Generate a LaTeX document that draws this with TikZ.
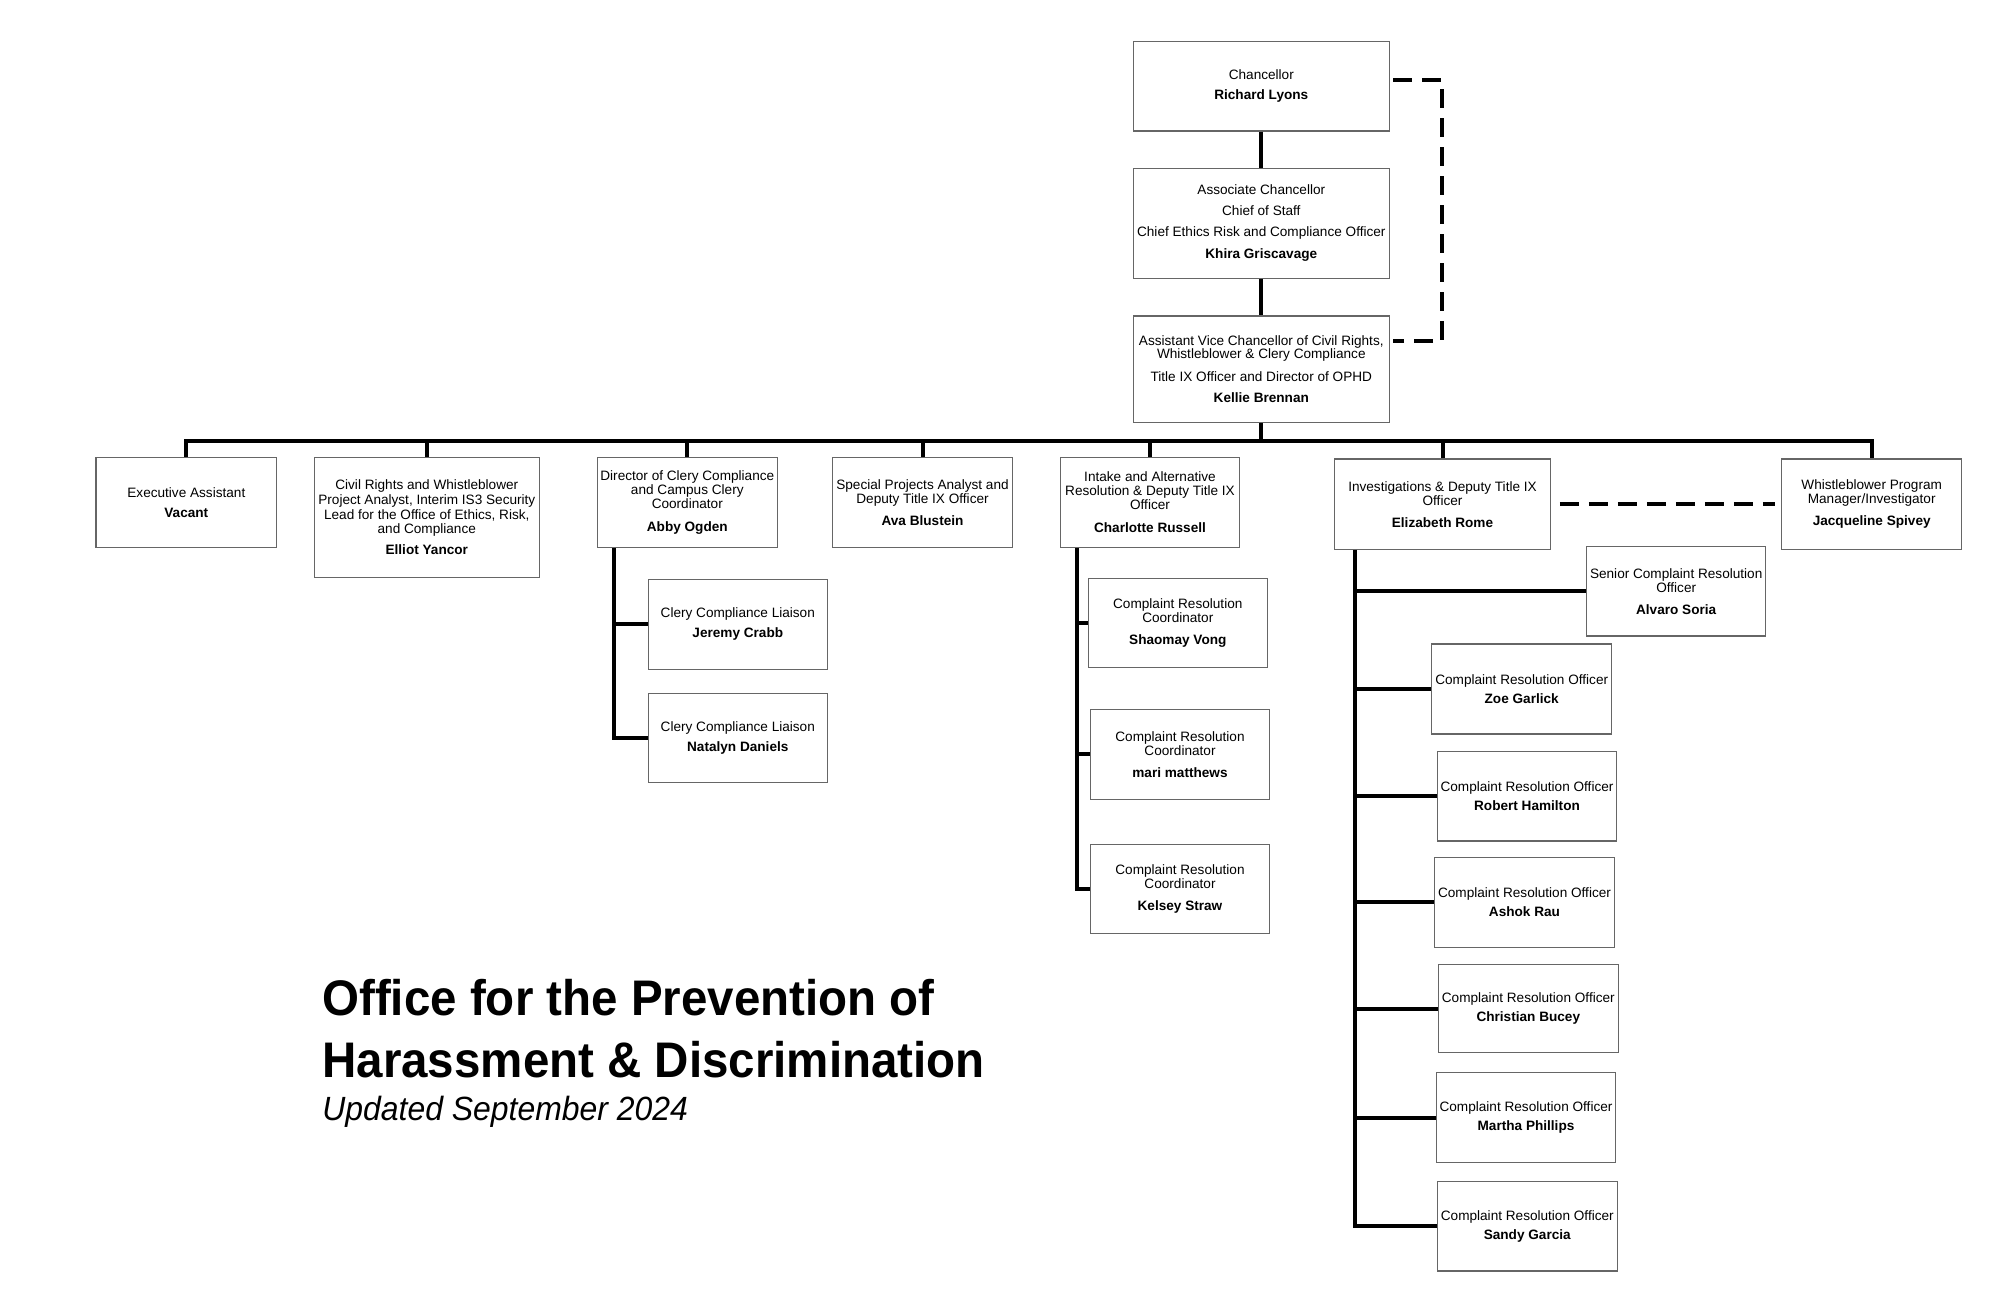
\documentclass[tikz,border=0pt]{standalone}
\usepackage{fontspec}
\setmainfont{Liberation Sans}
\newfontfamily\titlefont[FakeStretch=0.95]{Liberation Sans}
\usetikzlibrary{calc}
\begin{document}
\begin{tikzpicture}[x=0.5pt,y=-0.5pt,
  box/.style={draw=black!60, line width=0.6pt, fill=white, align=center, inner sep=0pt,
    font=\fontsize{6.8pt}{7.1pt}\selectfont},
  conn/.style={line width=2pt},
  dashline/.style={line width=2pt, dash pattern=on 9.5pt off 5pt},
  titlestyle/.style={anchor=base west, inner sep=0pt}
]
\useasboundingbox (0,0) rectangle (1992,1302);
\fill[white] (0,0) rectangle (1992,1302);

% top chain
\node[box, minimum width=128pt, minimum height=44.65pt] (chan) at (1261.3,86.35)
  {Chancellor\\[3pt]\textbf{Richard Lyons}};
\node[box, minimum width=128pt, minimum height=55pt] (assoc) at (1261.3,223.3)
  {Associate Chancellor\\[3pt]Chief of Staff\\[3.6pt]Chief Ethics Risk and Compliance Officer\\[4pt]\textbf{Khira Griscavage}};
\node[box, minimum width=128pt, minimum height=53.15pt, font=\fontsize{6.8pt}{6.9pt}\selectfont] (avc) at (1261.3,369.2)
  {Assistant Vice Chancellor of Civil Rights,\\Whistleblower \& Clery Compliance\\[4.3pt]Title IX Officer and Director of OPHD\\[3.9pt]\textbf{Kellie Brennan}};

% second level
\node[box, minimum width=90.35pt, minimum height=45pt] (exec) at (186.35,502.3)
  {Executive Assistant\\[3pt]\textbf{Vacant}};
\node[box, minimum width=112.5pt, minimum height=60pt, font=\fontsize{6.8pt}{7.3pt}\selectfont] (civil) at (426.8,517.3)
  {Civil Rights and Whistleblower\\Project Analyst, Interim IS3 Security\\Lead for the Office of Ethics, Risk,\\and Compliance\\[3pt]\textbf{Elliot Yancor}};
\node[box, minimum width=90pt, minimum height=45pt] (clery) at (687.3,502.3)
  {Director of Clery Compliance\\and Campus Clery\\Coordinator\\[4.4pt]\textbf{Abby Ogden}};
\node[box, minimum width=90.2pt, minimum height=45pt] (special) at (922.5,502.3)
  {Special Projects Analyst and\\Deputy Title IX Officer\\[3.7pt]\textbf{Ava Blustein}};
\node[box, minimum width=89.3pt, minimum height=45pt] (intake) at (1150,502.3)
  {Intake and Alternative\\Resolution \& Deputy Title IX\\Officer\\[4.4pt]\textbf{Charlotte Russell}};
\node[box, minimum width=108.2pt, minimum height=45.15pt] (invest) at (1442.5,504.2)
  {Investigations \& Deputy Title IX\\Officer\\[3.8pt]\textbf{Elizabeth Rome}};
\node[box, minimum width=90pt, minimum height=45.15pt] (whistle) at (1871.7,504.2)
  {Whistleblower Program\\Manager/Investigator\\[3.8pt]\textbf{Jacqueline Spivey}};

% Clery reports
\node[box, minimum width=89.5pt, minimum height=45pt] (jeremy) at (737.8,624.3)
  {Clery Compliance Liaison\\[3pt]\textbf{Jeremy Crabb}};
\node[box, minimum width=89.5pt, minimum height=44.7pt] (natalyn) at (737.8,738)
  {Clery Compliance Liaison\\[3pt]\textbf{Natalyn Daniels}};

% Intake reports
\node[box, minimum width=89.5pt, minimum height=44.5pt] (shaomay) at (1177.8,622.8)
  {Complaint Resolution\\Coordinator\\[3.7pt]\textbf{Shaomay Vong}};
\node[box, minimum width=89.3pt, minimum height=45pt] (mari) at (1180,754.3)
  {Complaint Resolution\\Coordinator\\[3.7pt]\textbf{mari matthews}};
\node[box, minimum width=89.3pt, minimum height=44.5pt] (kelsey) at (1180,888.8)
  {Complaint Resolution\\Coordinator\\[3.7pt]\textbf{Kelsey Straw}};

% Investigations reports
\node[box, minimum width=89.5pt, minimum height=44.65pt] (senior) at (1676.2,591.4)
  {Senior Complaint Resolution\\Officer\\[3.8pt]\textbf{Alvaro Soria}};
\node[box, minimum width=90pt, minimum height=45pt] (zoe) at (1521.7,689)
  {Complaint Resolution Officer\\[2.6pt]\textbf{Zoe Garlick}};
\node[box, minimum width=89.7pt, minimum height=44.65pt] (robert) at (1527,796.3)
  {Complaint Resolution Officer\\[2.6pt]\textbf{Robert Hamilton}};
\node[box, minimum width=90.2pt, minimum height=45pt] (ashok) at (1524.5,902.3)
  {Complaint Resolution Officer\\[2.6pt]\textbf{Ashok Rau}};
\node[box, minimum width=90pt, minimum height=44.2pt] (christian) at (1528.3,1008.5)
  {Complaint Resolution Officer\\[2.6pt]\textbf{Christian Bucey}};
\node[box, minimum width=89.7pt, minimum height=44.8pt] (martha) at (1526,1117.5)
  {Complaint Resolution Officer\\[2.6pt]\textbf{Martha Phillips}};
\node[box, minimum width=90pt, minimum height=44.65pt] (sandy) at (1527.3,1226.3)
  {Complaint Resolution Officer\\[2.6pt]\textbf{Sandy Garcia}};

% connectors
\coordinate (busy) at (0,441);
\draw[conn] (chan.south) -- (assoc.north);
\draw[conn] (assoc.south) -- (avc.north);
\draw[conn] (avc.south) -- (avc.south |- busy);
\draw[conn] (exec.north) -- (exec.north |- busy) -- (whistle.north |- busy) -- (whistle.north);
\foreach \n in {civil,clery,special,intake,invest}
  \draw[conn] (\n.north) -- (\n.north |- busy);

\coordinate (cleryv) at ($(clery.south west)+(17,0)$);
\draw[conn] (cleryv) -- (cleryv |- natalyn.west) -- (natalyn.west);
\draw[conn] (cleryv |- jeremy.west) -- (jeremy.west);

\coordinate (intakev) at ($(intake.south west)+(16.6,0)$);
\draw[conn] (intakev) -- (intakev |- kelsey.west) -- (kelsey.west);
\foreach \n in {shaomay,mari}
  \draw[conn] (intakev |- \n.west) -- (\n.west);

\coordinate (investv) at ($(invest.south west)+(21.7,0)$);
\draw[conn] (investv) -- (investv |- sandy.west) -- (sandy.west);
\foreach \n in {senior,zoe,robert,ashok,christian,martha}
  \draw[conn] (investv |- \n.west) -- (\n.west);

% dotted reporting lines
\draw[dashline] ($(chan.east)+(3.4,-6.35)$) -- ++(49,0) |- ($(avc.east)+(3.4,-28.5)$);
\draw[dashline] ($(invest.east)+(8.6,0)$) -- ($(whistle.west)+(-5.7,0)$);

% title
\node[titlestyle, font=\titlefont\bfseries\fontsize{25pt}{30pt}\selectfont] (t1) at (322,1015)
  {Office for the Prevention of};
\node[titlestyle, font=\titlefont\bfseries\fontsize{25pt}{30pt}\selectfont] (t2) at (322,1077)
  {Harassment \& Discrimination};
\node[titlestyle, font=\titlefont\itshape\fontsize{16.8pt}{20pt}\selectfont] (t3) at (322,1120)
  {Updated September 2024};
\end{tikzpicture}
\end{document}
